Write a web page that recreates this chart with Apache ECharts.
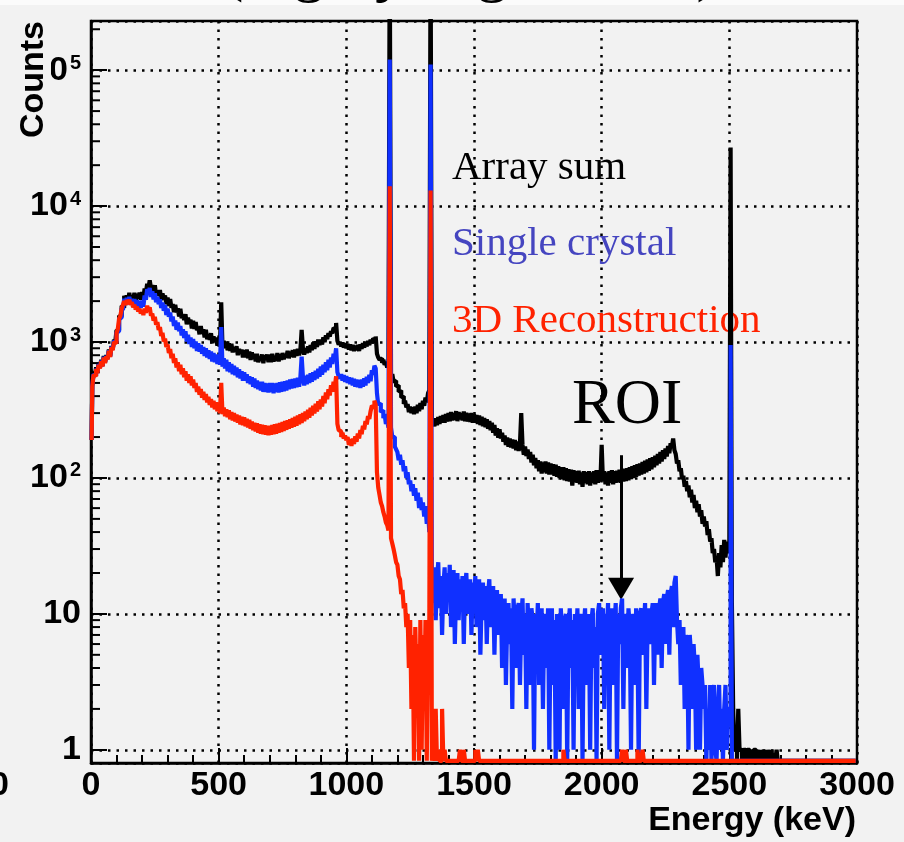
<!DOCTYPE html>
<html><head><meta charset="utf-8">
<script src="https://cdn.jsdelivr.net/npm/echarts@6/dist/echarts.min.js"></script>
<style>html,body{margin:0;padding:0;background:#f2f2f2;}#c{width:904px;height:842px;}</style>
</head><body><div id="c"></div>
<script>
// ---- data (5 keV bins, 0..3000 keV; 600 bins per spectrum) ----
const BIN_WIDTH = 5;
const X_TICKS = [0, 500, 1000, 1500, 2000, 2500, 3000];
const Y_TICK_VALUES = [1, 10, 100, 1000, 10000, 100000];
const Y_TICK_LABELS = ['1', '10', '10^2', '10^3', '10^4', '10^5'];
const Y_MINOR_TICKS = [2,3,4,5,6,7,8,9,20,30,40,50,60,70,80,90,200,300,400,500,600,700,800,900,
  2000,3000,4000,5000,6000,7000,8000,9000,20000,30000,40000,50000,60000,70000,80000,90000,200000];
const Y_MIN = 0.8, Y_MAX = 2.3e5;
const EMPTY_BIN_LEVEL = 0.83; // empty bins are drawn on the lower frame
const ROI_ARROW = [2076, 147, 15.3]; // energy, top count, tip count

const arraySum = [
190,480,590,570,650,600,700,650,740,670,790,715,800,760,880,790,935,890,1040,1000,
1220,1220,1560,1540,1850,1790,2190,1980,2200,1970,2300,2010,2190,2030,2300,1990,2260,2090,2310,2050,
2330,2100,2480,2300,2680,2500,2840,2480,2620,2290,2610,2240,2390,2190,2410,2030,2280,2070,2200,1900,
2120,1840,2070,1790,1900,1660,1880,1650,1770,1540,1760,1500,1590,1450,1600,1350,1510,1370,1460,1260,
1430,1250,1400,1220,1300,1140,1310,1150,1240,1080,1230,1050,1130,1040,1160,980,1100,1000,1080,940,
1060,930,1960,920,1020,900,1010,870,980,860,970,840,910,850,930,800,890,820,880,770,
870,770,880,760,850,740,840,750,820,720,820,710,780,730,810,700,800,740,810,710,
810,710,820,720,790,730,830,720,810,740,830,750,800,770,860,760,850,780,870,770,
880,790,890,800,870,1230,900,810,900,830,930,840,950,870,990,890,1010,920,1040,950,
1040,960,1080,1000,1120,1050,1160,1100,1200,1160,1270,1240,1380,1020,960,1000,930,990,910,980,
900,970,880,960,870,950,860,940,870,950,860,960,890,980,910,1000,930,1020,950,1040,
980,1060,1030,1100,820,770,740,760,700,740,680,710,650,680,1000000,560,580,510,520,470,
480,430,440,390,400,350,370,330,350,305,335,300,330,295,335,300,345,310,355,320,
370,340,390,360,420,440,1000000,240,270,240,275,245,280,250,285,255,290,255,295,260,
300,262,305,265,300,268,310,262,305,270,300,265,308,262,302,260,298,258,300,255,
295,255,290,250,288,245,282,240,276,236,270,230,262,225,255,215,245,205,232,198,
228,195,215,185,205,175,198,170,195,168,192,165,190,160,185,158,180,300,175,148,
170,145,162,138,155,130,148,124,140,118,135,112,132,108,130,110,132,108,130,106,
128,106,126,104,125,102,122,100,120,98,120,96,118,95,116,94,115,88,114,93,
112,92,113,90,110,86,112,92,110,90,112,88,110,92,112,90,114,92,112,94,
175,95,112,90,110,88,112,92,114,90,112,92,113,93,115,92,116,94,117,95,
118,96,120,98,122,100,124,102,126,104,128,106,131,108,134,110,137,113,140,116,
142,120,146,124,150,128,155,132,160,138,165,144,172,152,180,170,195,160,150,128,
135,112,118,98,104,86,95,80,88,72,82,66,75,60,68,56,64,52,58,46,
52,44,48,38,42,34,36,28,30,24,26,19,28,22,32,24,35,26,34,28,
30,27000,12,2,1,1,0,2,1,1,0,1,1,0,1,1,0,1,0,1,
1,0,1,0,0,1,0,1,0,0,1,0,0,1,0,0,0,1,0,0,
0,0,0,0,0,0,0,0,0,0,0,0,0,0,0,0,0,0,0,0,
0,0,0,0,0,0,0,0,0,0,0,0,0,0,0,0,0,0,0,0,
0,0,0,0,0,0,0,0,0,0,0,0,0,0,0,0,0,0,0,0
];

const singleCrystal = [
190,475,580,565,640,595,690,645,730,665,780,705,790,750,870,780,925,880,1020,990,
1180,1200,1500,1500,1780,1720,2080,1880,2110,1900,2150,1930,2080,1870,2070,1820,2030,1800,2010,1780,
2020,1820,2200,2050,2450,2280,2500,2150,2360,2060,2280,1960,2150,1900,2060,1780,1950,1700,1870,1580,
1760,1540,1650,1420,1540,1310,1440,1230,1390,1200,1310,1120,1240,1070,1200,1010,1130,970,1080,920,
1050,900,1010,860,980,850,950,820,920,790,900,770,870,750,850,720,830,710,810,690,
800,680,1290,660,760,640,740,610,710,600,690,580,670,570,650,550,630,540,610,520,
600,520,580,500,560,490,550,470,540,460,520,450,510,440,510,430,500,430,495,425,
500,430,500,420,495,430,500,425,505,430,510,435,515,440,520,450,530,455,535,460,
540,465,545,470,550,780,555,480,565,490,575,500,590,510,600,525,615,540,635,555,
660,575,680,600,710,620,740,650,770,690,820,760,900,600,560,540,580,520,570,510,
560,500,550,490,545,480,535,470,530,465,525,460,530,470,540,480,555,500,575,515,
620,575,670,640,420,345,355,305,315,275,295,250,265,235,120000,235,200,200,170,168,
155,135,148,125,135,112,122,100,110,90,96,80,90,74,84,68,78,60,72,58,
66,52,62,46,58,40,110000,20,12,22,9,18,24,11,19,7,16,22,10,20,
13,23,8,17,21,6,15,20,9,18,12,19,6,16,20,10,14,18,7,17,
11,19,8,15,18,5,13,17,9,16,6,14,18,8,12,16,5,13,15,7,
12,14,4,10,13,3,9,12,6,11,2,13,8,4,11,12,3,9,13,5,
10,2,12,7,3,11,9,1,10,6,12,3,8,11,2,9,10,4,11,1,
8,11,3,9,0,10,6,1,11,7,2,9,10,0,8,11,4,9,1,10,
6,11,2,9,10,0,8,11,3,7,10,1,9,11,4,8,0,10,12,5,
9,11,2,10,7,12,1,9,11,3,8,12,0,10,6,11,13,2,9,10,
4,11,8,1,10,9,3,11,7,0,10,11,5,8,12,2,9,11,6,10,
12,3,10,12,5,11,13,4,12,14,6,13,15,5,14,16,8,17,19,9,
6,9,3,7,8,2,7,6,1,7,5,2,6,4,1,5,3,1,4,3,
2,3,0,2,1,3,0,2,3,1,0,2,3,1,2,0,2,3,1,2,
2,950,0,0,0,0,0,0,0,0,0,0,0,0,0,0,0,0,0,0,
0,0,0,0,0,0,0,0,0,0,0,0,0,0,0,0,0,0,0,0,
0,0,0,0,0,0,0,0,0,0,0,0,0,0,0,0,0,0,0,0,
0,0,0,0,0,0,0,0,0,0,0,0,0,0,0,0,0,0,0,0,
0,0,0,0,0,0,0,0,0,0,0,0,0,0,0,0,0,0,0,0
];

const reconstruction3D = [
190,470,575,560,635,590,680,640,720,660,770,700,785,745,860,775,915,870,1000,980,
1160,1250,1480,1560,1760,1780,2000,1870,2040,1900,2050,1880,1960,1800,1880,1740,1820,1680,1760,1620,
1720,1580,1760,1640,1850,1700,1800,1560,1620,1440,1530,1340,1400,1230,1290,1110,1170,1010,1060,920,
960,830,890,760,820,700,760,650,710,610,680,580,640,550,610,520,580,500,560,480,
530,460,500,430,470,410,450,390,430,375,415,360,395,345,380,330,370,320,360,310,
335,300,500,295,330,285,320,280,315,270,305,265,300,260,292,255,288,248,282,245,
280,240,272,235,268,230,260,225,255,220,252,215,248,212,246,210,244,208,242,206,
242,208,245,210,248,212,250,215,254,218,258,222,262,226,266,230,270,234,276,238,
282,242,288,248,294,254,300,262,308,270,318,278,328,288,340,298,352,308,366,320,
378,335,400,355,425,380,450,405,480,430,510,470,560,250,225,220,200,215,195,205,
190,200,175,192,172,195,178,202,185,212,195,225,210,242,228,262,248,285,272,310,
340,330,370,345,110,85,75,66,62,56,52,47,45,41,14000,36,33,30,27,24,
23,19,18,14,15,11,12,8,10,4,9,2,7,0,8,3,6,0,9,1,
7,2,9,0,6,8,13000,0,1,0,2,0,1,0,0,2,0,1,0,0,
0,0,0,0,0,0,0,0,0,1,0,0,1,0,0,0,0,0,0,0,
0,1,0,1,0,0,0,0,0,0,0,0,0,0,0,0,0,0,0,0,
0,0,0,0,0,0,0,0,0,0,0,0,0,0,0,0,0,0,0,0,
0,0,0,0,0,0,0,0,0,0,0,0,0,0,0,0,0,0,0,0,
0,0,0,0,0,0,0,0,0,0,1,0,0,0,0,0,0,0,0,0,
0,0,0,0,0,0,0,0,0,0,0,0,0,0,0,0,0,0,0,0,
0,0,0,0,0,0,0,0,0,0,0,0,0,0,0,0,1,0,0,1,
0,0,0,0,0,0,0,0,1,0,0,0,1,0,0,0,0,0,0,0,
0,0,0,0,0,0,0,0,0,0,0,0,0,0,0,0,0,0,0,0,
0,0,0,0,0,0,0,0,0,0,0,0,0,0,0,0,0,0,0,0,
0,0,0,0,0,0,0,0,0,0,0,0,0,0,0,0,0,0,0,0,
0,0,0,0,0,0,0,0,0,0,0,0,0,0,0,0,0,0,0,0,
0,0,0,0,0,0,0,0,0,0,0,0,0,0,0,0,0,0,0,0,
0,0,0,0,0,0,0,0,0,0,0,0,0,0,0,0,0,0,0,0,
0,0,0,0,0,0,0,0,0,0,0,0,0,0,0,0,0,0,0,0,
0,0,0,0,0,0,0,0,0,0,0,0,0,0,0,0,0,0,0,0
];

// ---- chart ----
function toSeries(counts) {
  return counts.map((c, i) => [i * BIN_WIDTH + BIN_WIDTH / 2, c > 0 ? c : EMPTY_BIN_LEVEL]);
}
function yLabel(v) {
  const e = Math.log10(v);
  const idx = Y_TICK_VALUES.findIndex(t => Math.abs(Math.log10(t) - e) < 1e-6);
  if (idx < 0) return '';
  const parts = Y_TICK_LABELS[idx].split('^');
  return parts.length > 1 ? '{b|' + parts[0] + '}{s|' + parts[1] + '}' : '{b|' + parts[0] + '}';
}
const SANS = '"Liberation Sans", Arial, sans-serif';
const SERIF = '"Liberation Serif", "Times New Roman", serif';
const dotted = { color: '#000', width: 2.5, type: [2.5, 6] };
const LW = 4.2;

const chart = echarts.init(document.getElementById('c'), null, { renderer: 'canvas' });
chart.setOption({
  backgroundColor: '#f2f2f2',
  animation: false,
  grid: { left: 91, top: 21, right: 47, bottom: 79, show: true, borderColor: '#000', borderWidth: 2.5 },
  xAxis: {
    type: 'value', min: X_TICKS[0], max: X_TICKS[X_TICKS.length - 1], interval: 500,
    axisLine: { show: true, onZero: false, lineStyle: { color: '#000', width: 2.5 } },
    axisTick: { show: true, inside: true, length: 15, lineStyle: { color: '#000', width: 2 } },
    minorTick: { show: true, splitNumber: 5, length: 8, lineStyle: { color: '#000', width: 2 } },
    splitLine: { show: true, lineStyle: dotted },
    axisLabel: { fontSize: 34, fontWeight: 'bold', fontFamily: SANS, color: '#000', margin: 6,
      formatter: v => X_TICKS.includes(v) ? String(v) : '' }
  },
  yAxis: {
    type: 'log', logBase: 10, min: Y_MIN, max: Y_MAX,
    axisLine: { show: true, lineStyle: { color: '#000', width: 2.5 } },
    axisTick: { show: true, inside: true, length: 16, lineStyle: { color: '#000', width: 2 } },
    splitLine: { show: true, lineStyle: dotted },
    axisLabel: {
      showMinLabel: false, showMaxLabel: false, margin: 10, formatter: yLabel,
      rich: {
        b: { fontSize: 34, fontWeight: 'bold', fontFamily: SANS, color: '#000' },
        s: { fontSize: 20, fontWeight: 'bold', fontFamily: SANS, color: '#000', verticalAlign: 'top', padding: [0, 0, 0, 2] }
      }
    }
  },
  series: [
    { name: 'Array sum', type: 'line', step: 'middle', symbol: 'none', clip: true, zlevel: 1, z: 2,
      lineStyle: { color: '#000', width: LW }, data: toSeries(arraySum),
      markLine: { silent: true, symbol: ['none', 'triangle'], symbolSize: [26, 22],
        lineStyle: { color: '#000', width: 3, type: 'solid' }, label: { show: false },
        data: [[{ coord: [ROI_ARROW[0], ROI_ARROW[1]] }, { coord: [ROI_ARROW[0], ROI_ARROW[2]] }]] } },
    { name: 'Single crystal', type: 'line', step: 'middle', symbol: 'none', clip: false, zlevel: 1, z: 3,
      lineStyle: { color: '#1030ff', width: LW }, data: toSeries(singleCrystal) },
    { name: '3D Reconstruction', type: 'line', step: 'middle', symbol: 'none', clip: false, zlevel: 1, z: 4,
      lineStyle: { color: '#ff2200', width: LW }, data: toSeries(reconstruction3D) },
    { name: 'minor ticks', type: 'custom', silent: true, z: 5,
      data: Y_MINOR_TICKS.map(v => [0, v]),
      renderItem: (params, api) => {
        const p = api.coord([api.value(0), api.value(1)]);
        return { type: 'line', shape: { x1: p[0], y1: p[1], x2: p[0] + 9, y2: p[1] },
          style: { stroke: '#000', lineWidth: 2 } };
      } }
  ],
  graphic: {
    zlevel: 2,
    elements: [
    { type: 'rect', z: 1, shape: { x: 0, y: 0, width: 904, height: 5 }, style: { fill: '#fbfbfb' } },
    { type: 'text', z: 20, x: 222, y: -28, style: { text: '(highly segmented)', font: '64px ' + SERIF, fill: '#000',
      align: 'left', textAlign: 'left', verticalAlign: 'middle', textVerticalAlign: 'middle' } },
    { type: 'text', z: 20, x: 452, y: 168, style: { text: 'Array sum', font: '41px ' + SERIF, fill: '#000',
      align: 'left', textAlign: 'left', verticalAlign: 'middle', textVerticalAlign: 'middle' } },
    { type: 'text', z: 20, x: 452, y: 244, style: { text: 'Single crystal', font: '41px ' + SERIF, fill: '#4545c0',
      align: 'left', textAlign: 'left', verticalAlign: 'middle', textVerticalAlign: 'middle' } },
    { type: 'text', z: 20, x: 452, y: 321, style: { text: '3D Reconstruction', font: '41px ' + SERIF, fill: '#ff2200',
      align: 'left', textAlign: 'left', verticalAlign: 'middle', textVerticalAlign: 'middle' } },
    { type: 'text', z: 20, x: 572, y: 406, style: { text: 'ROI', font: '64px ' + SERIF, fill: '#000',
      align: 'left', textAlign: 'left', verticalAlign: 'middle', textVerticalAlign: 'middle' } },
    { type: 'text', z: 20, x: 34, y: 21, rotation: Math.PI / 2, style: { text: 'Counts', font: 'bold 34px ' + SANS, fill: '#000',
      align: 'right', textAlign: 'right', verticalAlign: 'middle', textVerticalAlign: 'middle', backgroundColor: '#f2f2f2' } },
    { type: 'text', z: 20, x: 856, y: 821, style: { text: 'Energy (keV)', font: 'bold 34px ' + SANS, fill: '#000',
      align: 'right', textAlign: 'right', verticalAlign: 'middle', textVerticalAlign: 'middle' } },
    { type: 'text', z: 20, x: -10, y: 786, style: { text: '0', font: 'bold 34px ' + SANS, fill: '#000',
      align: 'left', textAlign: 'left', verticalAlign: 'middle', textVerticalAlign: 'middle' } }
    ]
  }
});
</script></body></html>
